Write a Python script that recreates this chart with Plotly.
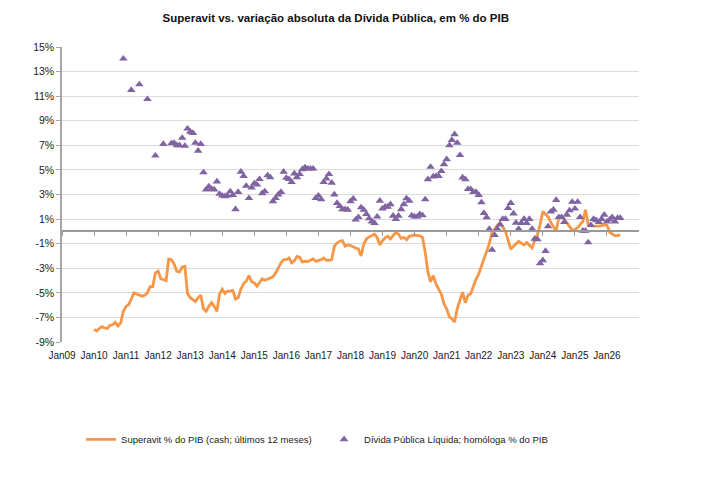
import pandas as pd
import plotly.graph_objects as go

# ---------------- data ----------------
# Superavit % do PIB (cash; ultimos 12 meses) - monthly, Jan 2010 .. Jun 2026
sup_2010 = [-7.97, -8.1, -7.9, -7.75, -7.85, -7.9, -7.65, -7.6, -7.4, -7.7, -7.45, -6.5]
sup_2011 = [-6.1, -5.95, -5.5, -5.0, -5.1, -5.2, -5.27, -5.2, -5.0, -4.5, -4.5, -3.38]
sup_2012 = [-3.24, -3.85, -3.9, -4.0, -2.25, -2.3, -2.65, -3.25, -3.3, -2.9, -2.85, -5.05]
sup_2013 = [-5.4, -5.6, -5.7, -5.4, -5.2, -6.3, -6.5, -6.1, -5.8, -6.1, -6.5, -5.1]
sup_2014 = [-4.7, -5.05, -4.86, -4.86, -4.8, -5.5, -5.4, -4.7, -4.24, -4.05, -3.6, -4.1]
sup_2015 = [-4.2, -4.46, -4.2, -3.86, -3.97, -3.86, -3.8, -3.7, -3.38, -2.97, -2.57, -2.3]
sup_2016 = [-2.3, -2.16, -2.57, -2.4, -2.03, -2.1, -2.5, -2.43, -2.45, -2.35, -2.24, -2.43]
sup_2017 = [-2.35, -2.3, -2.16, -2.35, -2.35, -2.3, -1.2, -0.95, -0.8, -0.75, -1.2, -1.1]
sup_2018 = [-1.15, -1.27, -1.35, -1.43, -2.0, -1.05, -0.62, -0.45, -0.3, -0.22, -0.5, -1.1]
sup_2019 = [-0.76, -0.5, -0.4, -0.62, -0.35, -0.1, -0.22, -0.57, -0.5, -0.68, -0.4, -0.35]
sup_2020 = [-0.3, -0.35, -0.35, -0.5, -1.7, -3.3, -4.1, -3.6, -4.27, -4.7, -5.1, -5.9]
sup_2021 = [-6.3, -6.97, -7.1, -7.38, -6.3, -5.6, -4.95, -5.8, -5.2, -5.08, -4.4, -3.9]
sup_2022 = [-3.46, -2.9, -2.24, -1.65, -1.0, -0.1, 0.2, 0.5, 0.7, 0.4, 0.0, -0.7]
sup_2023 = [-1.45, -1.2, -1.0, -0.8, -0.95, -1.1, -0.9, -1.1, -1.35, -0.7, -0.27, 0.54]
sup_2024 = [1.62, 1.4, 1.2, 0.73, 0.4, 0.0, 1.1, 1.2, 1.0, 0.7, 0.35, 0.1]
sup_2025 = [0.15, 0.3, 0.55, 0.8, 1.75, 0.55, 0.45, 0.42, 0.4, 0.42, 0.46, 0.54]
sup_2026 = [0.5, -0.05, -0.2, -0.35, -0.35, -0.27]

superavit = (sup_2010 + sup_2011 + sup_2012 + sup_2013 + sup_2014 + sup_2015 +
             sup_2016 + sup_2017 + sup_2018 + sup_2019 + sup_2020 + sup_2021 +
             sup_2022 + sup_2023 + sup_2024 + sup_2025 + sup_2026)
superavit_dates = pd.date_range("2010-01-01", periods=len(superavit), freq="MS")

# Divida Publica Liquida; homologa % do PIB
# quarterly points Dec 2010 .. Mar 2012
div_q_dates = ["2010-12-01", "2011-03-01", "2011-06-01", "2011-09-01", "2011-12-01", "2012-03-01"]
div_q = [14.05, 11.5, 11.95, 10.75, 6.16, 7.1]
# monthly points Jun 2012 .. Jun 2026
div_2012 = [7.16, 7.2, 7.0, 7.0, 7.6, 6.95, 8.35]
div_2013 = [8.1, 8.0, 7.2, 6.55, 7.1, 4.8, 3.4, 3.65, 3.45, 3.4, 4.05, 3.05]
div_2014 = [2.9, 2.85, 2.9, 3.25, 2.95, 1.8, 3.2, 4.85, 4.5, 3.7, 2.7, 3.55]
div_2015 = [3.9, 3.8, 4.25, 3.1, 3.25, 4.55, 4.4, 2.45, 2.7, 3.0, 3.2, 4.85]
div_2016 = [4.35, 4.25, 4.0, 4.7, 4.4, 4.65, 5.05, 5.2, 5.1, 5.1, 5.1, 2.7]
div_2017 = [2.9, 2.6, 4.0, 4.3, 4.65, 3.95, 3.0, 2.3, 2.05, 1.8, 1.8, 1.75]
div_2018 = [2.45, 2.65, 0.95, 1.15, 1.95, 1.75, 1.4, 1.05, 0.8, 0.68, 1.2, 2.49]
div_2019 = [1.86, 2.0, 2.0, 2.2, 1.27, 1.0, 1.27, 1.8, 2.2, 2.68, 2.49, 1.3]
div_2020 = [1.2, 1.2, 1.4, 1.3, 2.6, 4.24, 5.24, 4.46, 4.5, 4.5, 4.9, 5.46]
div_2021 = [5.86, 7.0, 7.43, 7.9, 7.2, 6.2, 4.38, 4.24, 3.43, 3.43, 3.2, 3.2]
div_2022 = [2.95, 2.35, 1.49, 1.14, 0.19, -1.5, -0.3, 0.2, 0.55, 1.0, 1.0, 1.9]
div_2023 = [2.3, 1.45, 0.7, 0.2, 0.68, 1.0, 0.68, 1.0, 0.2, -0.6, -0.65, -2.6]
div_2024 = [-2.35, -1.6, 0.4, 1.6, 1.75, 2.55, 1.15, 1.15, 0.75, 1.35, 1.7, 2.4]
div_2025 = [1.85, 2.4, 1.15, 0.05, 0.05, -0.9, 0.5, 1.0, 0.9, 0.75, 1.0, 1.35]
div_2026 = [0.8, 0.95, 1.15, 0.8, 1.08, 1.08]

div_m = (div_2012 + div_2013 + div_2014 + div_2015 + div_2016 + div_2017 +
         div_2018 + div_2019 + div_2020 + div_2021 + div_2022 + div_2023 +
         div_2024 + div_2025 + div_2026)
div_m_dates = pd.date_range("2012-06-01", periods=len(div_m), freq="MS")
divida_dates = list(pd.to_datetime(div_q_dates)) + list(div_m_dates)
divida = div_q + div_m

x_tick_years = list(range(2009, 2027))
x_tick_vals = [f"{y}-01-01" for y in x_tick_years]
x_tick_text = [f"Jan{str(y)[2:]}" for y in x_tick_years]
y_tick_vals = [15, 13, 11, 9, 7, 5, 3, 1, -1, -3, -5, -7, -9]
y_tick_text = ["15%", "13%", "11%", "9%", "7%", "5%", "3%", "1%", "-1%", "-3%", "-5%", "-7%", "-9%"]

title_text = "Superavit vs. variação absoluta da Dívida Pública, em % do PIB"
name_sup = "Superavit % do PIB (cash; últimos 12 meses)"
name_div = "Dívida Pública Líquida; homóloga % do PIB"

# ---------------- figure ----------------
FONT = "Liberation Sans, Arial, sans-serif"
ORANGE = "#F79646"
PURPLE = "#8064A2"
TXT = "#1a1a1a"

fig = go.Figure()
fig.add_trace(go.Scatter(
    x=superavit_dates, y=superavit, mode="lines", name=name_sup,
    line=dict(color=ORANGE, width=2.8),
))
fig.add_trace(go.Scatter(
    x=divida_dates, y=divida, mode="markers", name=name_div,
    marker=dict(symbol="triangle-up", size=7.5, color=PURPLE, line=dict(width=0)),
))
# invisible helper trace so the zero-line axis (x2) is rendered
fig.add_trace(go.Scatter(x=[x_tick_vals[0]], y=[0], xaxis="x2", mode="markers",
                         marker=dict(opacity=0), showlegend=False, hoverinfo="skip"))

x_range = ["2009-01-01", "2027-01-01"]
# page body adds an 8px offset, compensated in the margins
fig.update_layout(
    width=705, height=501,
    margin=dict(l=54, r=74, t=39, b=167),
    paper_bgcolor="white", plot_bgcolor="white",
    font=dict(family=FONT, size=10, color=TXT),
    title=dict(text=f"<b>{title_text}</b>", x=0.465, xanchor="center", y=0.98, yanchor="middle",
               font=dict(family=FONT, size=11.5, color="#111111")),
    showlegend=True,
    legend=dict(orientation="h", x=0.033, xanchor="left", y=-0.33, yanchor="middle",
                font=dict(family=FONT, size=9.5, color=TXT),
                entrywidth=198, entrywidthmode="pixels", itemwidth=30,
                bgcolor="rgba(0,0,0,0)"),
    xaxis=dict(
        type="date", range=x_range, tickmode="array", tickvals=x_tick_vals, ticktext=x_tick_text,
        showgrid=False, zeroline=False, showline=False,
        ticks="outside", ticklen=4, tickcolor="rgba(0,0,0,0)", tickangle=0,
        tickfont=dict(family=FONT, size=10, color=TXT),
    ),
    xaxis2=dict(
        type="date", range=x_range, overlaying="x", matches="x", anchor="free", position=0.375,
        tickmode="array", tickvals=x_tick_vals, showticklabels=False,
        showgrid=False, zeroline=False,
        showline=True, linecolor="#9a9a9a", linewidth=1.5,
        ticks="outside", ticklen=4, tickwidth=1, tickcolor="#9a9a9a",
    ),
    yaxis=dict(
        range=[-9, 15], tickmode="array", tickvals=y_tick_vals, ticktext=y_tick_text,
        showgrid=True, gridcolor="#dcdcdc", gridwidth=1.2,
        zeroline=False, showline=True, linecolor="#a6a6a6", linewidth=1.5,
        ticks="outside", ticklen=4, tickcolor="#a6a6a6",
        tickfont=dict(family=FONT, size=10.5, color=TXT),
    ),
)

fig.write_html("out.html")
